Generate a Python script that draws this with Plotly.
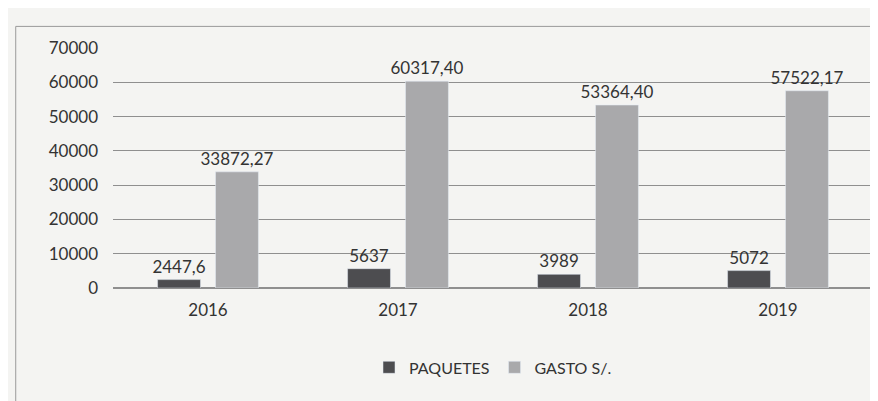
import plotly.graph_objects as go

years = ["2016", "2017", "2018", "2019"]
paquetes = [2447.6, 5637, 3989, 5072]
paquetes_labels = ["2447,6", "5637", "3989", "5072"]
gasto = [33872.27, 60317.40, 53364.40, 57522.17]
gasto_labels = ["33872,27", "60317,40", "53364,40", "57522,17"]

fig = go.Figure()
fig.add_trace(go.Bar(
    name="PAQUETES", x=years, y=paquetes, text=paquetes_labels,
    textposition="outside", cliponaxis=False,
    marker_color="#4d4d50"))
fig.add_trace(go.Bar(
    name="GASTO S/.", x=years, y=gasto, text=gasto_labels,
    textposition="outside", cliponaxis=False,
    marker_color="#a9a9ab"))

fig.update_traces(textfont=dict(size=17, color="#333333"))

fig.update_layout(
    width=878, height=401,
    margin=dict(l=105, r=13, t=40, b=121),
    paper_bgcolor="#f4f4f2",
    plot_bgcolor="#f4f4f2",
    font=dict(family="Lato, Open Sans, sans-serif", size=16, color="#333333"),
    barmode="group",
    bargap=0.39,
    bargroupgap=0.26,
    uniformtext=dict(minsize=17, mode="show"),
    showlegend=True,
    legend=dict(orientation="h", x=0.5, xanchor="center", y=-0.26, yanchor="top",
                font=dict(size=16), itemwidth=30),
    shapes=[dict(type="rect", xref="paper", yref="paper",
                 x0=-0.128, x1=1.005, y0=-0.475, y1=1.09,
                 line=dict(color="#9a9a9a", width=1))],
)
fig.update_yaxes(range=[0, 70000], dtick=10000, tickformat="d", showgrid=True,
                 gridcolor="#8f8f8f", gridwidth=1, zeroline=True,
                 zerolinecolor="#8f8f8f", ticks="", ticklabelstandoff=14,
                 tickfont=dict(size=17))
fig.update_xaxes(showline=False, ticks="", tickfont=dict(size=17),
                 ticklabelstandoff=10)

fig.write_html("out.html")
